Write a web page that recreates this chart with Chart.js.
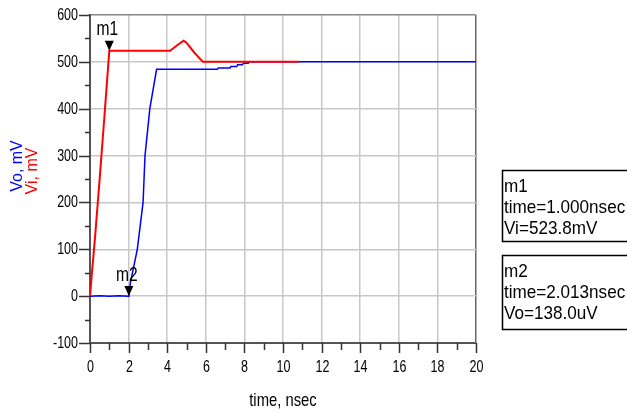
<!DOCTYPE html>
<html>
<head>
<meta charset="utf-8">
<script src="https://cdn.jsdelivr.net/npm/chart.js@4.4.0/dist/chart.umd.min.js"></script>
<style>
  html, body { margin: 0; padding: 0; background: #fff; }
</style>
</head>
<body>
<canvas id="c" width="627" height="414"></canvas>
<script>
// Vi (red) transient, time in nsec, value in mV
const viTime  = [0, 0.1, 0.25, 0.5, 0.75, 1.0, 4.15, 4.5, 4.85, 5.0, 5.4, 5.85, 10.8];
const viValue = [0, 50, 120, 250, 385, 523.8, 523.8, 535, 545, 541, 520, 500, 500];

// Vo (blue) transient
const voTime  = [0, 0.5, 1.0, 1.5, 2.0, 2.013, 2.1, 2.45, 2.75, 2.85, 3.1, 3.45, 6.6, 6.65, 7.25, 7.3, 7.6, 7.65, 7.9, 7.95, 8.2, 8.25, 20];
const voValue = [0, 1, 0, 1, 0, 0.138, 30, 100, 200, 300, 400, 484, 484, 487, 487, 490, 490, 494, 494, 497, 497, 500, 500];

const xMin = 0, xMax = 20, xStep = 1;
const yMin = -100, yMax = 600, yStep = 50;

// markers
const markerNames  = ['m1', 'm2'];
const markerTimes  = [1.0, 2.013];
const markerValues = [523.8, 0.138];
const markerReadouts = [
  ['m1', 'time=1.000nsec', 'Vi=523.8mV'],
  ['m2', 'time=2.013nsec', 'Vo=138.0uV']
];

const RED = '#ff0000';
const BLUE = '#0000ff';
const FONT = "'Liberation Sans', Arial, sans-serif";

function toPoints(ts, vs) {
  return ts.map((t, i) => ({ x: t, y: vs[i] }));
}

// no narrow font installed, so squeeze the regular one
function narrowText(ctx, s, x, y, size, align, sx) {
  ctx.save();
  ctx.translate(x, y);
  ctx.scale(sx || 0.78, 1);
  ctx.font = size + 'px ' + FONT;
  ctx.textAlign = align;
  ctx.textBaseline = 'middle';
  ctx.fillText(s, 0, 0);
  ctx.restore();
}

const extras = {
  id: 'extras',
  afterDraw(chart) {
    const ctx = chart.ctx;
    const xs = chart.scales.x, ys = chart.scales.y;
    const area = chart.chartArea;
    ctx.save();

    // tick marks and labels
    ctx.strokeStyle = '#333';
    ctx.fillStyle = '#000';
    ctx.lineWidth = 1.5;
    xs.ticks.forEach(t => {
      const v = t.value;
      const px = Math.round(xs.getPixelForValue(v)) + 0.5;
      const major = v % 2 === 0;
      ctx.beginPath();
      ctx.moveTo(px, area.bottom);
      ctx.lineTo(px, area.bottom + (major ? 10 : 7));
      ctx.stroke();
      if (major) narrowText(ctx, String(v), px, area.bottom + 25, 16, 'center');
    });
    ys.ticks.forEach(t => {
      const v = t.value;
      const py = Math.round(ys.getPixelForValue(v)) + 0.5;
      const major = v % 100 === 0;
      ctx.beginPath();
      ctx.moveTo(area.left - (major ? 11 : 5), py);
      ctx.lineTo(area.left, py);
      ctx.stroke();
      if (major) narrowText(ctx, String(v), area.left - 12, py, 16, 'right');
    });

    // axis titles
    narrowText(ctx, 'time, nsec', (area.left + area.right) / 2, 401, 19, 'center');

    ctx.font = '16px ' + FONT;
    ctx.textAlign = 'center';
    ctx.textBaseline = 'middle';
    ctx.save();
    ctx.translate(18, 166);
    ctx.rotate(-Math.PI / 2);
    ctx.fillStyle = BLUE;
    ctx.fillText('Vo, mV', 0, 0);
    ctx.restore();
    ctx.save();
    ctx.translate(33, 171);
    ctx.rotate(-Math.PI / 2);
    ctx.fillStyle = RED;
    ctx.fillText('Vi, mV', 0, 0);
    ctx.restore();

    // marker triangles and names
    markerNames.forEach((name, i) => {
      const px = xs.getPixelForValue(markerTimes[i]);
      const py = ys.getPixelForValue(markerValues[i]);
      ctx.fillStyle = '#000';
      ctx.beginPath();
      ctx.moveTo(px - 4.5, py - 10);
      ctx.lineTo(px + 4.5, py - 10);
      ctx.lineTo(px, py);
      ctx.closePath();
      ctx.fill();
      narrowText(ctx, name, px - 2, py - 21, 20, 'center');
    });

    // readout boxes
    const boxX = area.right + 26;
    const boxTops = [170, 255];
    const boxH = [71, 74];
    markerReadouts.forEach((lines, i) => {
      const top = boxTops[i];
      ctx.fillStyle = '#fff';
      ctx.fillRect(boxX, top, 200, boxH[i]);
      ctx.strokeStyle = '#000';
      ctx.lineWidth = 1.5;
      ctx.strokeRect(boxX + 0.5, top + 0.5, 200, boxH[i]);
      ctx.fillStyle = '#000';
      lines.forEach((s, j) => {
        narrowText(ctx, s, boxX + 2, top + 17 + j * 21, 19, 'left', 0.9);
      });
    });

    ctx.restore();
  }
};

new Chart(document.getElementById('c'), {
  type: 'line',
  data: {
    datasets: [
      {
        label: 'Vi',
        data: toPoints(viTime, viValue),
        borderColor: RED,
        borderWidth: 2,
        pointRadius: 0,
        tension: 0
      },
      {
        label: 'Vo',
        data: toPoints(voTime, voValue),
        borderColor: BLUE,
        borderWidth: 1.5,
        pointRadius: 0,
        tension: 0
      }
    ]
  },
  options: {
    responsive: false,
    animation: false,
    layout: { padding: { left: 0, right: 151, top: 15, bottom: 0 } },
    plugins: { legend: { display: false }, tooltip: { enabled: false } },
    scales: {
      x: {
        type: 'linear',
        min: xMin, max: xMax,
        afterFit(scale) { scale.height = 71; },
        ticks: { stepSize: xStep, autoSkip: false, display: false },
        grid: {
          drawTicks: false,
          lineWidth: 1.5,
          color: c => c.tick && c.tick.value === xMax ? '#666' : (c.tick && c.tick.value % 2 === 0 ? '#c8c8c8' : 'rgba(0,0,0,0)')
        },
        border: { display: true, color: '#555', width: 2 }
      },
      y: {
        min: yMin, max: yMax,
        afterFit(scale) { scale.width = 90; },
        ticks: { stepSize: yStep, autoSkip: false, display: false },
        grid: {
          drawTicks: false,
          lineWidth: 1.5,
          color: c => c.tick && c.tick.value === yMax ? '#888' : (c.tick && c.tick.value % 100 === 0 ? '#c8c8c8' : 'rgba(0,0,0,0)')
        },
        border: { display: true, color: '#555', width: 2 }
      }
    }
  },
  plugins: [extras]
});
</script>
</body>
</html>
